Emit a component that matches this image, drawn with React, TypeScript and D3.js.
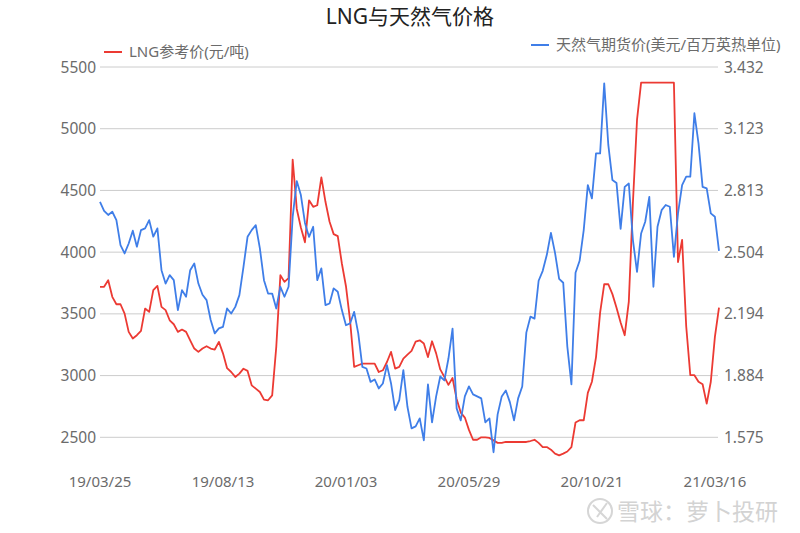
import React from "react";
import * as d3 from "d3";

const tickLabels = ["19/03/25", "19/08/13", "20/01/03", "20/05/29", "20/10/21", "21/03/16"];
const tickIndex = [0, 30, 60, 90, 120, 150];

const leftTicks = [2500, 3000, 3500, 4000, 4500, 5000, 5500];
const rightTicks = ["1.575", "1.884", "2.194", "2.504", "2.813", "3.123", "3.432"];

const lngPrice = [
  3719, 3719, 3773, 3638, 3578, 3578, 3502, 3354, 3300, 3327,
  3362, 3543, 3516, 3692, 3727, 3557, 3530, 3448, 3416, 3354,
  3373, 3354, 3286, 3219, 3192, 3219, 3238, 3219, 3211, 3273,
  3180, 3060, 3029, 2989, 3016, 3056, 3038, 2921, 2894, 2867,
  2805, 2800, 2840, 3232, 3813, 3759, 3790, 4750, 4350, 4200,
  4080, 4420, 4367, 4380, 4605, 4408, 4246, 4146, 4130, 3908,
  3724, 3448, 3070, 3084, 3097, 3097, 3097, 3097, 3029, 3043,
  3110, 3192, 3057, 3070, 3138, 3170, 3200, 3275, 3286, 3260,
  3150, 3278, 3180, 3050, 2990, 2925, 2980, 2810, 2700, 2660,
  2560, 2480, 2480, 2500, 2500, 2495, 2475, 2455, 2455, 2462,
  2462, 2462, 2462, 2462, 2462, 2470, 2480, 2455, 2421, 2421,
  2400, 2368, 2354, 2368, 2385, 2421, 2620, 2638, 2638, 2860,
  2950, 3150, 3510, 3740, 3740, 3660, 3550, 3430, 3327, 3600,
  4400, 5071, 5373, 5373, 5373, 5373, 5373, 5373, 5373, 5373,
  5373, 3920, 4100, 3400, 3003, 3003, 2950, 2930, 2773, 2950,
  3314, 3550,
];

const gasPrice = [
  2.756, 2.711, 2.69, 2.706, 2.664, 2.539, 2.497, 2.547, 2.611, 2.531,
  2.614, 2.623, 2.664, 2.581, 2.623, 2.413, 2.346, 2.388, 2.363, 2.213,
  2.313, 2.28, 2.413, 2.447, 2.346, 2.29, 2.263, 2.163, 2.096, 2.121,
  2.129, 2.221, 2.196, 2.229, 2.288, 2.43, 2.581, 2.614, 2.639, 2.522,
  2.363, 2.296, 2.296, 2.221, 2.33, 2.28, 2.33, 2.68, 2.86, 2.79,
  2.65, 2.58, 2.631, 2.363, 2.422, 2.238, 2.246, 2.322, 2.305, 2.213,
  2.137, 2.146, 2.204, 2.096, 1.928, 1.92, 1.853, 1.865, 1.82, 1.845,
  1.937, 1.845, 1.711, 1.761, 1.912, 1.728, 1.62, 1.63, 1.67, 1.56,
  1.84, 1.65, 1.78, 1.88, 1.86, 1.97, 2.12, 1.72, 1.66, 1.78,
  1.83, 1.79, 1.78, 1.77, 1.65, 1.67, 1.5, 1.69, 1.78, 1.81,
  1.75, 1.66, 1.77, 1.83, 2.1, 2.18, 2.17, 2.36, 2.41, 2.49,
  2.6, 2.5, 2.37, 2.35, 2.03, 1.84, 2.4, 2.46, 2.614, 2.84,
  2.773, 2.999, 2.999, 3.35, 3.041, 2.865, 2.85, 2.62, 2.831, 2.848,
  2.564, 2.405, 2.597, 2.656, 2.781, 2.33, 2.631, 2.714, 2.74, 2.731,
  2.48, 2.698, 2.84, 2.882, 2.882, 3.2, 3.049, 2.831, 2.823, 2.698,
  2.681, 2.51,
];

const W = 800;
const H = 533;
const left = 100;
const right = 719;
const top = 67;
const bottom = 437.3;
const FONT = "'Noto Sans', 'Noto Sans CJK SC', sans-serif";
const RED = "#ec3a33";
const BLUE = "#3f7ee8";
const GRAY = "#6b6b6b";

export default function App() {
  const x = d3.scaleLinear().domain([0, lngPrice.length - 1]).range([left, right]);
  const yL = d3.scaleLinear().domain([2500, 5500]).range([bottom, top]);
  const yR = d3.scaleLinear().domain([1.575, 3.432]).range([bottom, top]);

  const redLine = d3.line<number>().x((_, i) => x(i)).y((d) => yL(d)).curve(d3.curveLinear);
  const blueLine = d3.line<number>().x((_, i) => x(i)).y((d) => yR(d)).curve(d3.curveLinear);

  return (
    <svg
      width={W}
      height={H}
      style={{ position: "absolute", left: 0, top: 0, background: "#fff" }}
      fontFamily={FONT}
    >
      <rect width={W} height={H} fill="#fff" />
      <text x={410} y={24} textAnchor="middle" fontSize={21} fill="#222">
        LNG与天然气价格
      </text>

      {/* legends */}
      <line x1={104} x2={122} y1={52} y2={52} stroke={RED} strokeWidth={2} />
      <text x={129} y={57} fontSize={15} fill={GRAY}>LNG参考价(元/吨)</text>
      <line x1={531} x2={549} y1={45} y2={45} stroke={BLUE} strokeWidth={2} />
      <text x={556} y={50} fontSize={15} fill={GRAY}>天然气期货价(美元/百万英热单位)</text>

      {/* grid */}
      {leftTicks.map((t) => (
        <line key={t} x1={left} x2={718} y1={yL(t)} y2={yL(t)} stroke="#cccccc" strokeWidth={1} />
      ))}
      {leftTicks.map((t) => (
        <text key={"l" + t} x={96} y={yL(t) + 5.5} textAnchor="end" fontSize={15.5} fill={GRAY}>
          {t}
        </text>
      ))}
      {rightTicks.map((t) => (
        <text key={"r" + t} x={724} y={yR(+t) + 5.5} textAnchor="start" fontSize={15.5} fill={GRAY}>
          {t}
        </text>
      ))}
      {tickIndex.map((ti, k) => (
        <text key={"x" + k} x={x(ti)} y={487} textAnchor="middle" fontSize={15} fill={GRAY}>
          {tickLabels[k]}
        </text>
      ))}

      <path d={redLine(lngPrice) || ""} fill="none" stroke={RED} strokeWidth={1.8} strokeLinejoin="round" />
      <path d={blueLine(gasPrice) || ""} fill="none" stroke={BLUE} strokeWidth={1.8} strokeLinejoin="round" />

      {/* watermark */}
      <g opacity={0.55}>
        <circle cx={600} cy={511} r={12} fill="none" stroke="#b5b5b5" strokeWidth={2} />
        <path d="M593,505 L601,513 M607,503 L597,517 M601,513 L607,519" stroke="#b5b5b5" strokeWidth={2} fill="none" />
        <text x={617} y={520} fontSize={23} fill="#b0b0b0" fontFamily="'Noto Sans CJK SC', sans-serif">
          雪球：萝卜投研
        </text>
      </g>
    </svg>
  );
}
